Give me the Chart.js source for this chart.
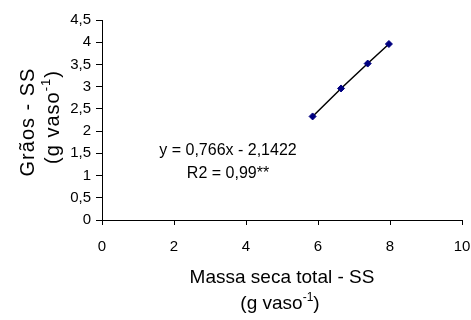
<!DOCTYPE html>
<html>
<head>
<meta charset="utf-8">
<script src="https://cdn.jsdelivr.net/npm/chart.js@4.4.0/dist/chart.umd.min.js"></script>
<style>
  html, body { margin: 0; padding: 0; background: #fff; }
  #wrap { width: 471px; height: 320px; }
</style>
</head>
<body>
<div id="wrap"><canvas id="grafico" width="471" height="320"></canvas></div>
<script>
// massa seca total (g vaso-1) x graos (g vaso-1)
var massaSeca = [5.85, 6.64, 7.38, 7.97];
var graos = [2.33, 2.96, 3.52, 3.96];
var equacao = "y = 0,766x - 2,1422";
var r2 = "R2 = 0,99**";

var FONTE = "'Liberation Sans', Arial, sans-serif";

var pontos = massaSeca.map(function(x, i){ return {x: x, y: graos[i]}; });

// escreve "(g vaso" + "-1" sobrescrito + ")" centrado em (0,0)
function unidade(ctx, tam, esp) {
	var a = "(g vaso", b = "-1", c = ")";
	var pequeno = Math.round(tam * 0.65);
	ctx.letterSpacing = esp + "px";
	ctx.font = tam + "px " + FONTE;
	var wa = ctx.measureText(a).width, wc = ctx.measureText(c).width;
	ctx.font = pequeno + "px " + FONTE;
	var wb = ctx.measureText(b).width;
	var x = -(wa + wb + wc) / 2;
	ctx.textAlign = "left";
	ctx.textBaseline = "middle";
	ctx.font = tam + "px " + FONTE;
	ctx.fillText(a, x, 0);
	ctx.font = pequeno + "px " + FONTE;
	ctx.fillText(b, x + wa, -tam * 0.35);
	ctx.font = tam + "px " + FONTE;
	ctx.fillText(c, x + wa + wb, 0);
}

var titulos = {
	id: 'titulos',
	afterDraw: function(chart) {
		var ctx = chart.ctx;
		var area = chart.chartArea;
		ctx.save();
		ctx.fillStyle = "#000";

		// titulo eixo x
		var cx = (area.left + area.right) / 2;
		ctx.textAlign = "center";
		ctx.textBaseline = "middle";
		ctx.font = "19px " + FONTE;
		ctx.fillText("Massa seca total - SS", cx, 278);
		ctx.save();
		ctx.translate(cx - 2, 304);
		unidade(ctx, 19, 0);
		ctx.restore();

		// titulo eixo y
		ctx.save();
		ctx.translate(28, 122);
		ctx.rotate(-Math.PI / 2);
		ctx.textAlign = "center";
		ctx.textBaseline = "middle";
		ctx.letterSpacing = "1px";
		ctx.font = "20px " + FONTE;
		ctx.fillText("Grãos - SS", 0, 0);
		ctx.restore();
		ctx.save();
		ctx.translate(53, 117);
		ctx.rotate(-Math.PI / 2);
		unidade(ctx, 20, 1);
		ctx.restore();

		// equacao
		ctx.letterSpacing = "0px";
		ctx.textAlign = "center";
		ctx.textBaseline = "middle";
		ctx.font = "16px " + FONTE;
		ctx.fillText(equacao, 228, 151);
		ctx.fillText(r2, 228, 174);
		ctx.restore();
	}
};

var ctx = document.getElementById("grafico");
new Chart(ctx, {
	type: 'scatter',
	data: {
		datasets: [
			{
				data: pontos,
				showLine: true,
				borderColor: '#000',
				borderWidth: 1.5,
				pointRadius: 0,
				order: 2
			},
			{
				data: pontos,
				pointStyle: 'rectRot',
				pointRadius: 3.5,
				backgroundColor: '#000080',
				borderColor: '#000080',
				borderWidth: 1,
				order: 1
			}
		]
	},
	options: {
		responsive: false,
		animation: false,
		layout: { padding: { top: 20, right: 9, left: 0, bottom: 0 } },
		plugins: {
			legend: { display: false },
			tooltip: { enabled: false }
		},
		scales: {
			x: {
				type: 'linear',
				min: 0,
				max: 10,
				ticks: {
					stepSize: 2,
					color: '#000',
					font: { family: FONTE, size: 15 },
					padding: 13
				},
				grid: {
					drawOnChartArea: false,
					tickLength: 5,
					tickColor: '#000'
				},
				border: { color: '#000', width: 1 },
				afterFit: function(s){
					s.height = 100;
					s.paddingLeft = 0;
					s.paddingRight = 0;
				}
			},
			y: {
				min: 0,
				max: 4.5,
				ticks: {
					stepSize: 0.5,
					color: '#000',
					font: { family: FONTE, size: 15 },
					padding: 5,
					callback: function(v){ return String(v).replace('.', ','); }
				},
				grid: {
					drawOnChartArea: false,
					tickLength: 6,
					tickColor: '#000'
				},
				border: { color: '#000', width: 1 },
				afterFit: function(s){
					s.width = 102;
					s.paddingTop = 0;
					s.paddingBottom = 0;
				}
			}
		}
	},
	plugins: [titulos]
});
</script>
</body>
</html>
